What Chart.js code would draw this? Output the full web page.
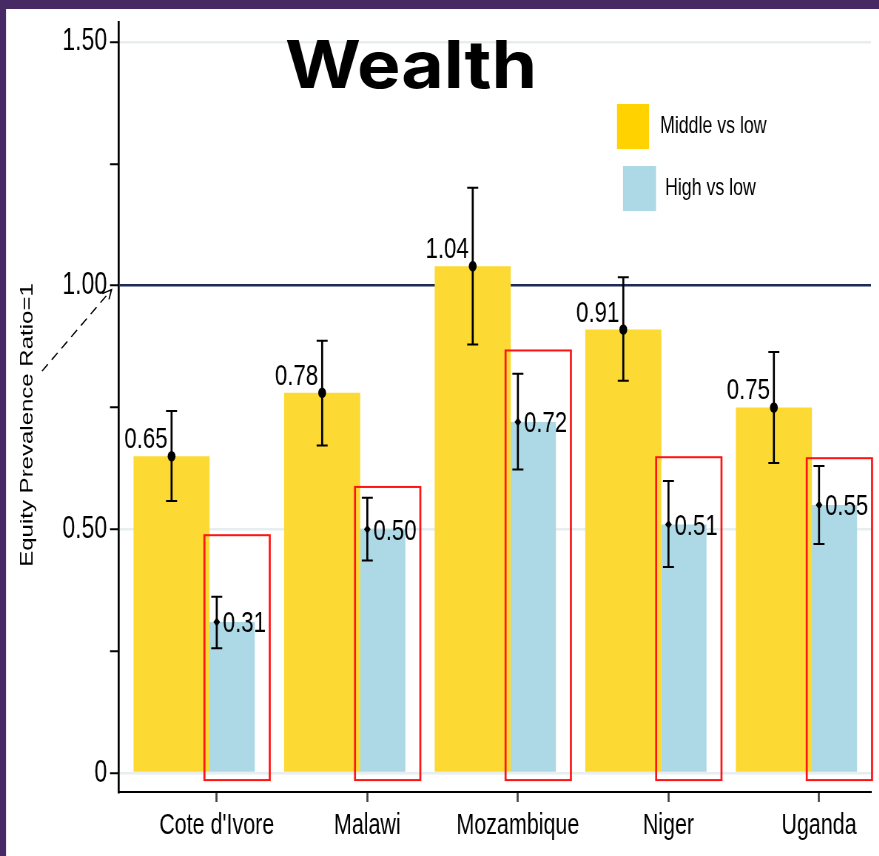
<!DOCTYPE html>
<html>
<head>
<meta charset="utf-8">
<script src="https://cdn.jsdelivr.net/npm/chart.js@4.4.1/dist/chart.umd.min.js"></script>
<style>
  html, body { margin: 0; padding: 0; background: #fff; overflow: hidden; }
  #wrap { width: 879px; height: 856px; overflow: hidden; }
  #chart { display: block; transform: scaleX(0.74); transform-origin: 0 0; }
</style>
</head>
<body>
<div id="wrap"><canvas id="chart" width="1188" height="856"></canvas></div>
<script>
const countries = ["Cote d'Ivore", 'Malawi', 'Mozambique', 'Niger', 'Uganda'];
const seriesNames = ['Middle vs low', 'High vs low'];

const middleVsLow = [0.65, 0.78, 1.04, 0.91, 0.75];
const middleLow = [0.558, 0.672, 0.879, 0.805, 0.636];
const middleHigh = [0.743, 0.887, 1.201, 1.017, 0.864];

const highVsLow = [0.31, 0.50, 0.72, 0.51, 0.55];
const highLow = [0.256, 0.436, 0.623, 0.423, 0.470];
const highHigh = [0.362, 0.565, 0.819, 0.599, 0.630];

// top of the red highlight box drawn round each "high vs low" bar
const boxTop = [0.488, 0.587, 0.867, 0.648, 0.646];

const yTicks = [0, 0.25, 0.5, 0.75, 1, 1.25, 1.5];

// the original picture is squashed sideways, the canvas is drawn wide and squeezed by css
const SQ = 0.74;
const FONT = '"Liberation Sans", Arial, Helvetica, sans-serif';

const countryTicks = (s) => { s.ticks = countries.map((c, i) => ({ value: i })); };

function stem(c, px, top, bot) {
  c.lineWidth = 2 / SQ;
  c.beginPath(); c.moveTo(px, top); c.lineTo(px, bot); c.stroke();
  const h = 5.5 / SQ;
  c.lineWidth = 2;
  c.beginPath();
  c.moveTo(px - h, top); c.lineTo(px + h, top);
  c.moveTo(px - h, bot); c.lineTo(px + h, bot);
  c.stroke();
}

const overlay = {
  id: 'overlay',
  beforeDraw(chart) {
    const c = chart.ctx;
    c.save();
    c.fillStyle = '#fff';
    c.fillRect(0, 0, chart.width, chart.height);
    c.fillStyle = '#472a63';
    c.fillRect(0, 0, chart.width, 9);
    c.fillRect(0, 0, 6 / SQ, chart.height);
    c.restore();
  },
  afterDatasetsDraw(chart) {
    const c = chart.ctx, y = chart.scales.y, x = chart.scales.x;
    const mid = chart.getDatasetMeta(0).data;
    const high = chart.getDatasetMeta(1).data;
    c.save();
    c.fillStyle = '#000';
    c.strokeStyle = '#000';
    c.font = '30px ' + FONT;

    middleVsLow.forEach((v, i) => {
      const px = mid[i].x, py = y.getPixelForValue(v);
      stem(c, px, y.getPixelForValue(middleHigh[i]), y.getPixelForValue(middleLow[i]));
      c.beginPath(); c.arc(px, py, 5.3, 0, Math.PI * 2); c.fill();
      c.textAlign = 'right'; c.textBaseline = 'alphabetic';
      c.fillText(v.toFixed(2), px - 4 / SQ, py - 8);
    });

    highVsLow.forEach((v, i) => {
      const px = x.getPixelForValue(i), py = y.getPixelForValue(v);
      stem(c, px, y.getPixelForValue(highHigh[i]), y.getPixelForValue(highLow[i]));
      c.beginPath();
      c.moveTo(px, py - 4.5); c.lineTo(px + 4.5, py);
      c.lineTo(px, py + 4.5); c.lineTo(px - 4.5, py);
      c.closePath(); c.fill();
      c.textAlign = 'left'; c.textBaseline = 'middle';
      c.fillText(v.toFixed(2), px + 6 / SQ, py + 2);
    });

    // red boxes, drawn in page space
    c.scale(1 / SQ, 1);
    c.strokeStyle = '#ff1414';
    c.lineWidth = 2;
    const y0 = y.getPixelForValue(0);
    high.forEach((bar, i) => {
      const l = (bar.x - bar.width / 2) * SQ - 5;
      const r = (bar.x + bar.width / 2) * SQ + 15;
      const t = y.getPixelForValue(boxTop[i]);
      c.strokeRect(l, t, r - l, y0 + 7 - t);
    });
    c.restore();
  },
  afterDraw(chart) {
    const c = chart.ctx, y = chart.scales.y, area = chart.chartArea;
    c.save();

    // legend
    const boxes = [
      { x: 617, y: 104, w: 32, tx: 660, ty: 133, color: '#FFD200' },
      { x: 623, y: 166, w: 33, tx: 665, ty: 195, color: '#ADD8E6' }
    ];
    chart.data.datasets.forEach((ds, i) => {
      const b = boxes[i];
      c.fillStyle = b.color;
      c.fillRect(b.x / SQ, b.y, b.w / SQ, 45);
      c.fillStyle = '#000';
      c.font = '24px ' + FONT;
      c.textAlign = 'left'; c.textBaseline = 'alphabetic';
      c.fillText(ds.label, b.tx / SQ, b.ty);
    });

    // y axis title
    c.save();
    c.translate(28 / SQ, 425);
    c.rotate(-Math.PI / 2);
    c.font = '24px ' + FONT;
    c.textAlign = 'center'; c.textBaseline = 'middle';
    c.fillText(chart.options.scales.y.title.text, 0, 0);
    c.restore();

    // page space: title and arrow
    c.scale(1 / SQ, 1);
    const title = chart.options.plugins.title.text;
    c.font = '700 66px Inter, "Open Sans", sans-serif';
    const w = c.measureText(title).width;
    c.save();
    c.translate(285, 88);
    c.scale(252 / w, 1);
    c.textAlign = 'left'; c.textBaseline = 'alphabetic';
    c.fillStyle = '#000';
    c.fillText(title, 0, 0);
    c.restore();

    const tx = area.left * SQ - 7.5, ty = y.getPixelForValue(1) + 4;
    const sx = tx - 69.5, sy = ty + 81.5;
    c.strokeStyle = '#000';
    c.lineWidth = 1.3;
    c.setLineDash([9, 6]);
    c.beginPath(); c.moveTo(sx, sy); c.lineTo(tx, ty); c.stroke();
    c.setLineDash([]);
    const ang = Math.atan2(ty - sy, tx - sx);
    c.beginPath();
    c.moveTo(tx - 10 * Math.cos(ang - 0.45), ty - 10 * Math.sin(ang - 0.45));
    c.lineTo(tx, ty);
    c.lineTo(tx - 10 * Math.cos(ang + 0.45), ty - 10 * Math.sin(ang + 0.45));
    c.stroke();
    c.restore();
  }
};

const chart = new Chart(document.getElementById('chart'), {
  type: 'bar',
  data: {
    datasets: [
      {
        label: seriesNames[0],
        data: middleVsLow.map((v, i) => ({ x: i, y: v })),
        xAxisID: 'xm',
        yAxisID: 'y',
        backgroundColor: '#FDD933',
        borderWidth: 0,
        grouped: false,
        categoryPercentage: 1,
        barPercentage: 0.505
      },
      {
        label: seriesNames[1],
        data: highVsLow.map((v, i) => ({ x: i, y: v })),
        xAxisID: 'xh',
        yAxisID: 'y',
        backgroundColor: '#ADD8E6',
        borderWidth: 0,
        grouped: false,
        categoryPercentage: 1,
        barPercentage: 0.301
      }
    ]
  },
  options: {
    responsive: false,
    animation: false,
    layout: { padding: { top: 20, right: 11, left: 0, bottom: 0 } },
    plugins: {
      legend: { display: false },
      tooltip: { enabled: false },
      title: { display: false, text: 'Wealth' }
    },
    scales: {
      x: {
        type: 'linear',
        position: 'bottom',
        min: -0.649,
        max: 4.345,
        offset: false,
        afterBuildTicks: countryTicks,
        afterFit: (s) => { s.height = 64; },
        ticks: {
          callback: (v) => countries[v],
          color: '#000',
          font: { family: FONT, size: 29 },
          padding: 7,
          maxRotation: 0,
          autoSkip: false
        },
        grid: { drawOnChartArea: false, offset: false, tickLength: 10, tickWidth: 2 / SQ, tickColor: '#444' },
        border: { color: '#000', width: 2 }
      },
      xm: { type: 'linear', display: false, min: -0.349, max: 4.645, offset: false, afterBuildTicks: countryTicks },
      xh: { type: 'linear', display: false, min: -0.751, max: 4.243, offset: false, afterBuildTicks: countryTicks },
      y: {
        type: 'linear',
        min: -0.0388,
        max: 1.5396,
        title: { display: false, text: 'Equity Prevalence Ratio=1' },
        afterBuildTicks: (s) => { s.ticks = yTicks.map((v) => ({ value: v })); },
        afterFit: (s) => { s.width = 119 / SQ; },
        ticks: {
          callback: (v) => v === 0 ? '0' : (v % 0.5 === 0 ? v.toFixed(2) : ''),
          color: '#000',
          font: { family: FONT, size: 31 },
          padding: 4
        },
        grid: {
          color: (ctx) => ctx.tick.value === 1 ? '#1f2b57' : (ctx.tick.value % 0.5 === 0 ? '#e6eef0' : 'rgba(0,0,0,0)'),
          lineWidth: 2.5,
          tickColor: '#000',
          tickLength: 9 / SQ,
          tickWidth: 2
        },
        border: { color: '#000', width: 2 / SQ }
      }
    }
  },
  plugins: [overlay]
});
</script>
</body>
</html>
